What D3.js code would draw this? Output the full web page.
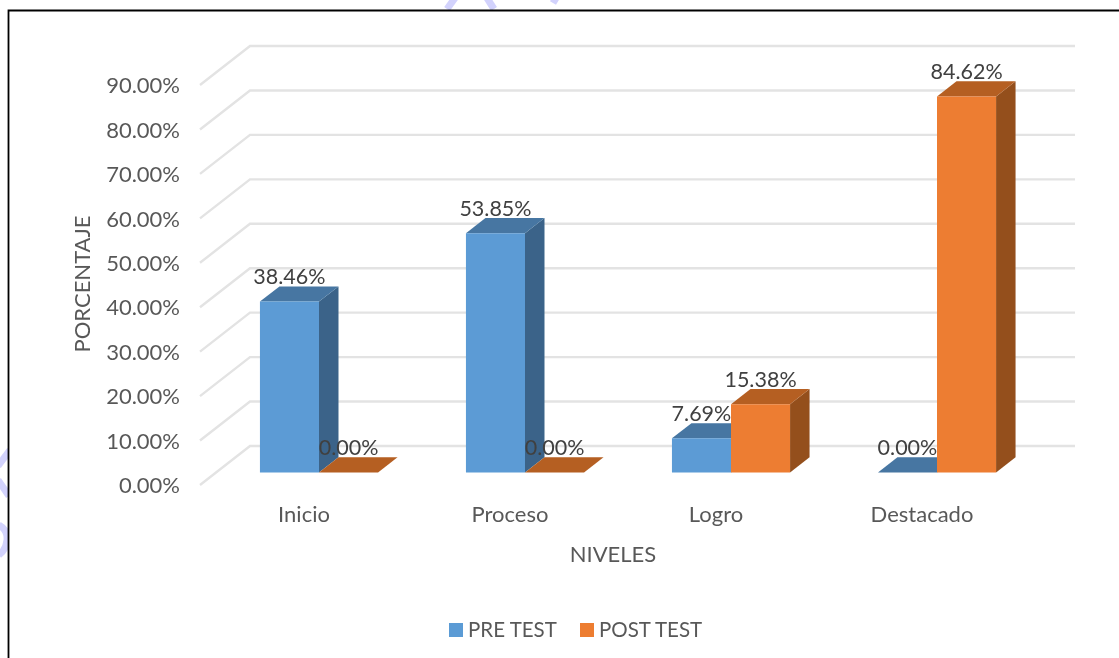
<!DOCTYPE html>
<html>
<head>
<meta charset="utf-8">
<script src="https://cdn.jsdelivr.net/npm/d3@7"></script>
<style>
  html, body { margin: 0; padding: 0; background: #fff; overflow: hidden; }
  text { font-family: Lato, "Open Sans", sans-serif; }
</style>
</head>
<body>
<div id="chartArea"></div>
<script>
// data
var categories = ["Inicio", "Proceso", "Logro", "Destacado"];
var seriesNames = ["PRE TEST", "POST TEST"];
var preTest = [38.46, 53.85, 7.69, 0];
var postTest = [0, 0, 15.38, 84.62];
var yTicks = [0, 10, 20, 30, 40, 50, 60, 70, 80, 90];

var width = 1119, height = 658;

// colours: front, top, side
var colors = {
    "PRE TEST": ["#5b9bd5", "#4676a2", "#3a6489"],
    "POST TEST": ["#ed7d31", "#b55f22", "#94501c"]
};

var svg = d3.select("#chartArea").append("svg")
    .attr("width", width)
    .attr("height", height);

var defs = svg.append("defs");
defs.append("filter").attr("id", "soft")
    .append("feGaussianBlur").attr("stdDeviation", 0.45);
defs.append("filter").attr("id", "softText")
    .append("feGaussianBlur").attr("stdDeviation", 0.3);
defs.append("filter").attr("id", "softGrid")
    .attr("x", "-5%").attr("y", "-5%").attr("width", "110%").attr("height", "110%")
    .append("feGaussianBlur").attr("stdDeviation", 0.7);

// bits of the pale watermark showing outside the frame
svg.append("g")
    .attr("fill", "none")
    .attr("stroke", "#d2d2fc")
    .attr("stroke-width", 7)
    .selectAll("path")
    .data([
        "M10,450L-2,466",
        "M-2,480L9,496",
        "M-1,525Q8,530 7,540Q6,550 -1,555",
        "M455,-2L447,9",
        "M487,-2L494,9",
        "M556,-2L553,3"
    ])
    .enter().append("path")
    .attr("d", function(d) { return d; });

// picture frame
svg.append("rect").attr("x", 9).attr("y", 11).attr("width", 1110).attr("height", 647).attr("fill", "#fff");
svg.append("path")
    .attr("d", "M8.5,658V10.5H1119")
    .attr("fill", "none")
    .attr("stroke", "#000")
    .attr("stroke-width", 1.8);

// the front plane of the chart, depth is pushed back from it
var x = d3.scaleBand().domain(categories).range([200, 1024])
    .paddingInner(0.4267).paddingOuter(0.2133);
var x1 = d3.scaleBand().domain(seriesNames).range([0, x.bandwidth()]);
var y = d3.scaleLinear().domain([0, 90]).range([485, 85]);

var depthX = 50, depthY = 39;
var barFront = 0.32, barBack = 0.71;

function px(xv, d) { return xv + d * depthX; }
function py(v, d) { return y(v) - d * depthY; }
function pt(xv, v, d) { return px(xv, d) + "," + py(v, d); }

// gridlines: side wall and back wall
var grid = svg.append("g").attr("filter", "url(#softGrid)");
grid.selectAll("path")
    .data(yTicks)
    .enter().append("path")
    .attr("d", function(d) {
        return "M" + pt(200, d, 0) + "L" + pt(200, d, 1) + "L" + pt(1025, d, 1);
    })
    .attr("fill", "none")
    .attr("stroke", "#e3e3e3")
    .attr("stroke-width", 2.4);

var labels = svg.append("g").attr("filter", "url(#softText)");

// y axis labels
labels.append("g").selectAll("text")
    .data(yTicks)
    .enter().append("text")
    .attr("x", 180)
    .attr("y", function(d) { return y(d) + 0.5; })
    .attr("dy", "0.35em")
    .attr("text-anchor", "end")
    .attr("font-size", 22)
    .attr("fill", "#595959")
    .text(function(d) { return d.toFixed(2) + "%"; });

// x axis labels
labels.append("g").selectAll("text")
    .data(categories)
    .enter().append("text")
    .attr("x", function(d) { return x(d) + x.bandwidth() / 2 + 1; })
    .attr("y", 522)
    .attr("text-anchor", "middle")
    .attr("font-size", 22)
    .attr("fill", "#595959")
    .text(function(d) { return d; });

// axis titles
labels.append("text")
    .attr("x", 613).attr("y", 562)
    .attr("text-anchor", "middle")
    .attr("font-size", 22)
    .attr("fill", "#595959")
    .text("NIVELES");

labels.append("text")
    .attr("transform", "translate(90,284)rotate(-90)")
    .attr("text-anchor", "middle")
    .attr("font-size", 22)
    .attr("fill", "#595959")
    .text("PORCENTAJE");

// bars
var bars = [];
categories.forEach(function(c, i) {
    bars.push({cat: c, name: seriesNames[0], value: preTest[i]});
    bars.push({cat: c, name: seriesNames[1], value: postTest[i]});
});

var barG = svg.append("g").attr("filter", "url(#soft)");
var bar = barG.selectAll("g")
    .data(bars)
    .enter().append("g");

// side face, top face and front face of each block
bar.append("polygon")
    .attr("fill", function(d) { return colors[d.name][2]; })
    .attr("points", function(d) {
        var r = x(d.cat) + x1(d.name) + x1.bandwidth();
        return [pt(r, 0, barFront), pt(r, 0, barBack), pt(r, d.value, barBack), pt(r, d.value, barFront)].join(" ");
    });
bar.append("polygon")
    .attr("fill", function(d) { return colors[d.name][1]; })
    .attr("points", function(d) {
        var l = x(d.cat) + x1(d.name), r = l + x1.bandwidth();
        return [pt(l, d.value, barFront), pt(l, d.value, barBack), pt(r, d.value, barBack), pt(r, d.value, barFront)].join(" ");
    });
bar.append("polygon")
    .attr("fill", function(d) { return colors[d.name][0]; })
    .attr("points", function(d) {
        var l = x(d.cat) + x1(d.name), r = l + x1.bandwidth();
        return [pt(l, 0, barFront), pt(l, d.value, barFront), pt(r, d.value, barFront), pt(r, 0, barFront)].join(" ");
    });

// data labels
svg.append("g").attr("filter", "url(#softText)").selectAll("text")
    .data(bars)
    .enter().append("text")
    .attr("x", function(d) { return x(d.cat) + x1(d.name) + x1.bandwidth() / 2 + 16; })
    .attr("y", function(d) { return py(d.value, barBack) - 2; })
    .attr("text-anchor", "middle")
    .attr("font-size", 21.5)
    .attr("fill", "#404040")
    .text(function(d) { return d.value.toFixed(2) + "%"; });

// legend
var legend = svg.append("g").selectAll("g")
    .data(seriesNames)
    .enter().append("g")
    .attr("transform", function(d, i) { return "translate(" + [449, 580][i] + ",623)"; });
legend.append("rect")
    .attr("width", 14).attr("height", 14)
    .attr("fill", function(d) { return colors[d][0]; });
legend.append("text")
    .attr("x", 19).attr("y", 14)
    .attr("font-size", 20.5)
    .attr("fill", "#595959")
    .attr("filter", "url(#softText)")
    .text(function(d) { return d; });
</script>
</body>
</html>
